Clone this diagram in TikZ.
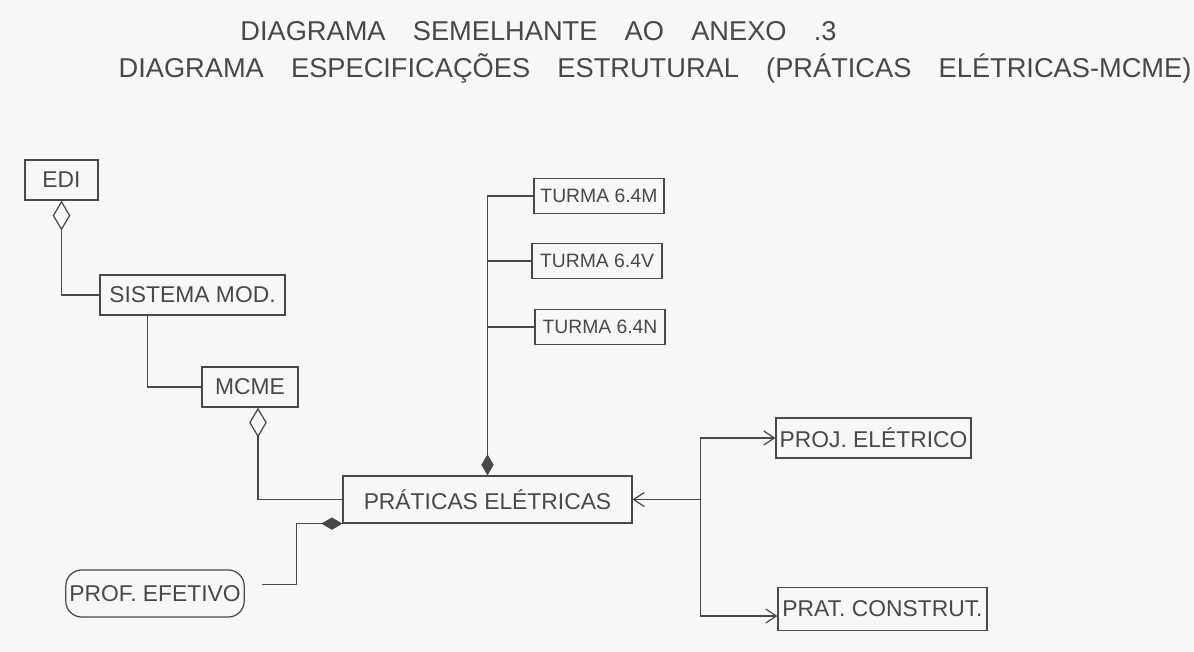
\documentclass[tikz,border=0pt]{standalone}
\usepackage{fontspec}
\setmainfont{Liberation Sans}
\usetikzlibrary{positioning,arrows.meta,calc}
\definecolor{paper}{RGB}{247,247,247}
\definecolor{pencil}{RGB}{72,72,72}
\newcommand{\headfont}{\fontsize{15.5}{17}\selectfont\spaceskip 1em\relax}

\begin{document}
\begin{tikzpicture}[
  x=0.02cm, y=-0.02cm,
  title/.style={text=pencil, inner sep=0pt, font=\headfont},
  box/.style={draw=pencil, line width=0.7pt, text=pencil, align=center, inner sep=2pt, font=\fontsize{13}{15}\selectfont},
  turma/.style={box, minimum width=2.6cm, minimum height=0.7cm, font=\fontsize{11}{13}\selectfont},
  actor/.style={box, rounded corners=9pt},
  link/.style={draw=pencil, line width=0.7pt},
  aggregate/.style={link, -{Diamond[open, length=17pt, width=10pt]}},
  compose/.style={link, -{Diamond[length=12pt, width=7pt]}},
  arrowto/.style={link, -{Straight Barb[length=6pt, width=8pt]}}
]
\path[use as bounding box, fill=paper] (0,0) rectangle (1194,652);

\node[title] (head) at (538.5,31) {DIAGRAMA SEMELHANTE AO ANEXO .3};
\node[title] (subhead) at (655,68) {DIAGRAMA ESPECIFICAÇÕES ESTRUTURAL (PRÁTICAS ELÉTRICAS-MCME)};

\node[box, minimum width=1.46cm, minimum height=0.8cm] (edi) at (61.5,180) {EDI};
\node[box, minimum width=3.7cm, minimum height=0.8cm] (sistema) at (192.5,295) {SISTEMA MOD.};
\node[box, minimum width=1.92cm, minimum height=0.8cm] (mcme) at (250,387) {MCME};
\node[box, minimum width=5.78cm, minimum height=0.94cm] (praticas) at (487.5,499.5) {PRÁTICAS ELÉTRICAS};

\node[turma] (t1) at (599,196) {TURMA 6.4M};
\node[turma] (t2) at (597,261) {TURMA 6.4V};
\node[turma] (t3) at (600,327) {TURMA 6.4N};

\node[box, minimum width=3.66cm, minimum height=0.8cm] (proj) at (873.5,438) {PROJ. ELÉTRICO};
\node[box, minimum width=4.18cm, minimum height=0.86cm] (prat) at (882.5,609) {PRAT. CONSTRUT.};
\node[actor, minimum width=3.28cm, minimum height=0.94cm] (prof) at (155,593.5) {PROF. EFETIVO};

\draw[aggregate] (sistema.west) -| (edi.south);
\draw[link] ($(sistema.south)+(-45,0)$) |- (mcme.west);
\draw[aggregate] (praticas.west) -| ($(mcme.south)+(8,0)$);
\draw[compose, shorten <=10pt] ([yshift=5pt]prof.east) -| ($(praticas.south west)+(-46,0)$) -- (praticas.south west);

\draw[compose] (t1.west) -| (praticas.north);
\draw[link] (t2.west) -- (t2.west -| praticas.north);
\draw[link] (t3.west) -- (t3.west -| praticas.north);

\coordinate (fork) at ($(praticas.east)+(68,0)$);
\draw[arrowto] (fork) -- (praticas.east);
\draw[arrowto] (fork) |- (proj.west);
\draw[arrowto] (fork) |- ([yshift=-4pt]prat.west);
\end{tikzpicture}
\end{document}
